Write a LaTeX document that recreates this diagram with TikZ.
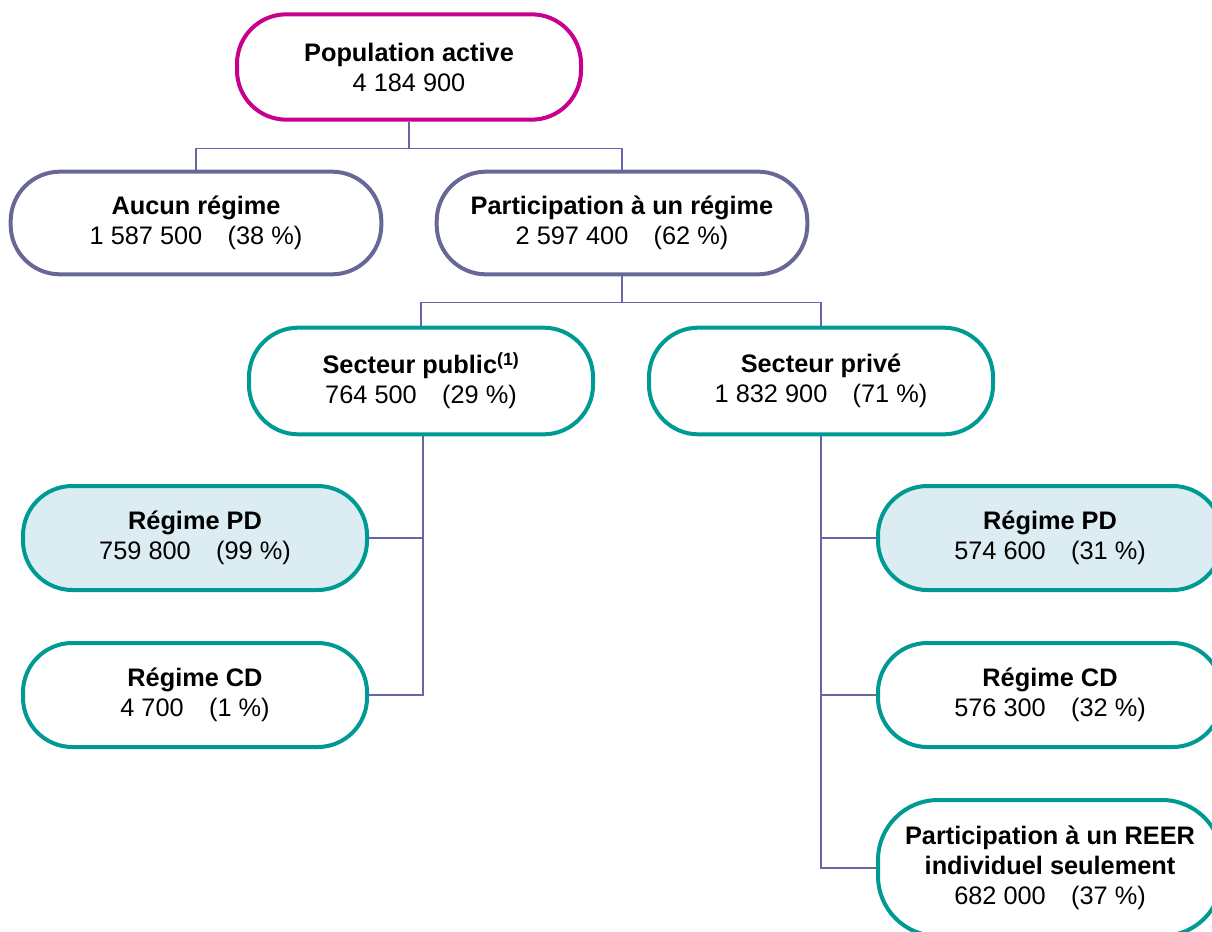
\documentclass[tikz,border=0pt]{standalone}
\usepackage{fontspec}
\setmainfont{Liberation Sans}
\definecolor{magbord}{RGB}{200,0,140}
\definecolor{slatebord}{RGB}{104,104,152}
\definecolor{tealbord}{RGB}{0,154,148}
\definecolor{linkcol}{RGB}{108,100,168}
\definecolor{pdfill}{RGB}{219,237,243}
\begin{document}
\begin{tikzpicture}[x=0.75pt,y=-0.75pt,
  box/.style={draw,line width=3pt,fill=white,rounded corners=37pt,align=center,
    font=\fontsize{19}{22.5}\selectfont,minimum width=258pt,minimum height=79pt},
  topbox/.style={box,draw=magbord},
  midbox/.style={box,draw=slatebord,minimum width=278pt,minimum height=77pt},
  secbox/.style={box,draw=tealbord,minimum height=80pt},
  pdbox/.style={secbox,fill=pdfill,minimum height=78pt},
  link/.style={draw=linkcol,line width=1.1pt}]
\useasboundingbox (0,0) rectangle (1212,931);
% level 0
\node[topbox] (pop) at (409,67) {\textbf{Population active}\\4~184~900};
% level 1
\node[midbox] (aucun) at (196,223) {\textbf{Aucun régime}\\1~587~500\hspace{1em}(38~\%)};
\node[midbox] (particip) at (622,223) {\textbf{Participation à un régime}\\2~597~400\hspace{1em}(62~\%)};
% level 2
\node[secbox] (public) at (421,381) {\textbf{Secteur public\textsuperscript{(1)}}\\764~500\hspace{1em}(29~\%)};
\node[secbox] (prive) at (821,381) {\textbf{Secteur privé}\\1~832~900\hspace{1em}(71~\%)};
% public sector plans
\node[pdbox] (pdpub) at (195,538) {\textbf{Régime PD}\\759~800\hspace{1em}(99~\%)};
\node[secbox,minimum height=78pt] (cdpub) at (195,695) {\textbf{Régime CD}\\4~700\hspace{1em}(1~\%)};
% private sector plans
\node[pdbox] (pdpriv) at (1050,538) {\textbf{Régime PD}\\574~600\hspace{1em}(31~\%)};
\node[secbox,minimum height=78pt] (cdpriv) at (1050,695) {\textbf{Régime CD}\\576~300\hspace{1em}(32~\%)};
\node[secbox,minimum height=102pt,rounded corners=45pt] (reer) at (1050,868) {\textbf{Participation à un REER}\\\textbf{individuel seulement}\\682~000\hspace{1em}(37~\%)};
% connectors
\draw[link] (pop.south) -- ++(0,27) -| (aucun.north);
\draw[link] (pop.south) -- ++(0,27) -| (particip.north);
\draw[link] (particip.south) -- ++(0,26) -| (public.north);
\draw[link] (particip.south) -- ++(0,26) -| (prive.north);
\draw[link] (public.south) ++(2,0) |- (pdpub.east);
\draw[link] (public.south) ++(2,0) |- (cdpub.east);
\draw[link] (prive.south) |- (pdpriv.west);
\draw[link] (prive.south) |- (cdpriv.west);
\draw[link] (prive.south) |- (reer.west);
\end{tikzpicture}
\end{document}
